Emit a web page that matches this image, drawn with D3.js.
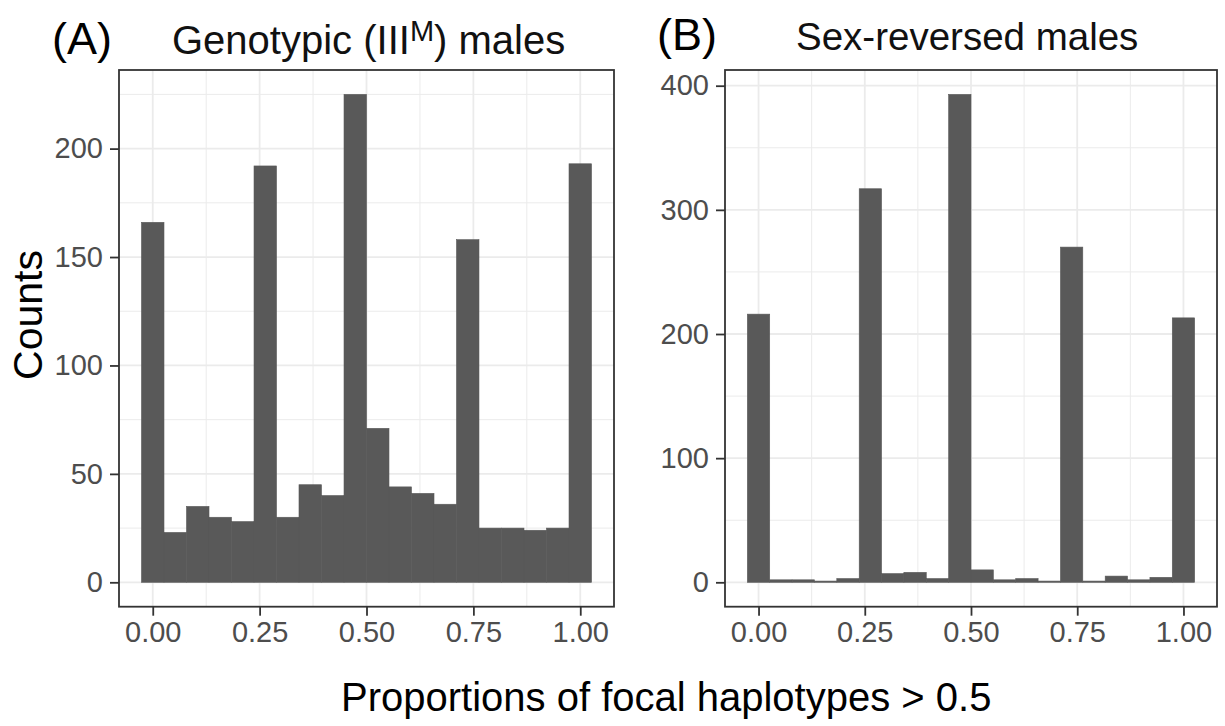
<!DOCTYPE html>
<html><head><meta charset="utf-8">
<script src="https://cdn.jsdelivr.net/npm/d3@7"></script>
<style>
body{margin:0;background:#fff}
svg{display:block}
text{font-family:"Liberation Sans",Arial,Helvetica,sans-serif}
</style>
</head><body>
<svg id="chart" width="1225" height="726"></svg>
<script>
// ---- data ----
const binMids = [0, 0.0526, 0.1053, 0.1579, 0.2105, 0.2632, 0.3158, 0.3684, 0.4211, 0.4737,
                 0.5263, 0.5789, 0.6316, 0.6842, 0.7368, 0.7895, 0.8421, 0.8947, 0.9474, 1];
const binWidth = 0.0526;
const countsA = [166, 23, 35, 30, 28, 192, 30, 45, 40, 225, 71, 44, 41, 36, 158, 25, 25, 24, 25, 193];
const countsB = [216, 2, 2, 1, 3, 317, 7, 8, 3, 393, 10, 2, 3, 1, 270, 1, 5, 2, 4, 213];
const xTicks = [0, 0.25, 0.5, 0.75, 1];
const xTickLabels = ["0.00", "0.25", "0.50", "0.75", "1.00"];
const xMinor = [0.125, 0.375, 0.625, 0.875];
const yTicksA = [0, 50, 100, 150, 200];
const yMinorA = [25, 75, 125, 175, 225];
const yTicksB = [0, 100, 200, 300, 400];
const yMinorB = [50, 150, 250, 350];

(function () {
const svg = d3.select("#chart");
const font = '"Liberation Sans",Arial,Helvetica,sans-serif';
const pTop = 70, pBottom = 606.7;

const panels = [
  {x0: 119, x1: 614, counts: countsA, yt: yTicksA, ym: yMinorA},
  {x0: 725, x1: 1217, counts: countsB, yt: yTicksB, ym: yMinorB}
];

const xlo = binMids[0] - binWidth / 2, xhi = binMids[binMids.length - 1] + binWidth / 2;
const xpad = (xhi - xlo) * 0.05;

panels.forEach(p => {
  const ymax = d3.max(p.counts);
  const x = d3.scaleLinear().domain([xlo - xpad, xhi + xpad]).range([p.x0, p.x1]);
  const y = d3.scaleLinear().domain([-0.05 * ymax, ymax * 1.05]).range([pBottom, pTop]);
  const g = svg.append("g");

  g.selectAll(".mx").data(xMinor).join("line")
    .attr("x1", d => x(d)).attr("x2", d => x(d)).attr("y1", pTop).attr("y2", pBottom)
    .attr("stroke", "#EBEBEB").attr("stroke-width", 1);
  g.selectAll(".my").data(p.ym).join("line")
    .attr("y1", d => y(d)).attr("y2", d => y(d)).attr("x1", p.x0).attr("x2", p.x1)
    .attr("stroke", "#EBEBEB").attr("stroke-width", 1);
  g.selectAll(".Mx").data(xTicks).join("line")
    .attr("x1", d => x(d)).attr("x2", d => x(d)).attr("y1", pTop).attr("y2", pBottom)
    .attr("stroke", "#EBEBEB").attr("stroke-width", 1.8);
  g.selectAll(".My").data(p.yt).join("line")
    .attr("y1", d => y(d)).attr("y2", d => y(d)).attr("x1", p.x0).attr("x2", p.x1)
    .attr("stroke", "#EBEBEB").attr("stroke-width", 1.8);

  g.selectAll(".bar").data(p.counts).join("rect")
    .attr("x", (d, i) => x(binMids[i] - binWidth / 2))
    .attr("width", (d, i) => x(binMids[i] + binWidth / 2) - x(binMids[i] - binWidth / 2))
    .attr("y", d => y(d))
    .attr("height", d => y(0) - y(d))
    .attr("fill", "#595959")
    .attr("stroke", "#595959").attr("stroke-width", 0.6);

  g.append("rect").attr("x", p.x0).attr("y", pTop).attr("width", p.x1 - p.x0).attr("height", pBottom - pTop)
    .attr("fill", "none").attr("stroke", "#333333").attr("stroke-width", 1.8);

  const xa = g.append("g").attr("transform", `translate(0,${pBottom})`)
    .call(d3.axisBottom(x).tickValues(xTicks).tickFormat((d, i) => xTickLabels[i]).tickSize(9).tickPadding(6));
  xa.select(".domain").remove();
  xa.selectAll("line").attr("stroke", "#333333").attr("stroke-width", 1.8);
  xa.selectAll("text").attr("fill", "#4D4D4D").style("font-size", "29px").style("font-family", font);

  const ya = g.append("g").attr("transform", `translate(${p.x0},0)`)
    .call(d3.axisLeft(y).tickValues(p.yt).tickSize(9).tickPadding(7));
  ya.select(".domain").remove();
  ya.selectAll("line").attr("stroke", "#333333").attr("stroke-width", 1.8);
  ya.selectAll("text").attr("fill", "#4D4D4D").style("font-size", "29px").style("font-family", font);
});

svg.append("text").attr("x", 52).attr("y", 54).attr("font-size", 45).attr("fill", "#000").text("(A)");
const tA = svg.append("text").attr("x", 172).attr("y", 54).attr("font-size", 40).attr("fill", "#111");
tA.append("tspan").text("Genotypic (III");
tA.append("tspan").attr("dy", -13).attr("font-size", 29).text("M");
tA.append("tspan").attr("dy", 13).text(") males");

svg.append("text").attr("x", 657).attr("y", 50).attr("font-size", 45).attr("fill", "#000").text("(B)");
svg.append("text").attr("x", 796).attr("y", 50).attr("font-size", 38.5).attr("fill", "#111").text("Sex-reversed males");

svg.append("text").attr("transform", "translate(42,315) rotate(-90)").attr("text-anchor", "middle")
  .attr("font-size", 41).attr("fill", "#000").text("Counts");
svg.append("text").attr("x", 341).attr("y", 711).attr("font-size", 40).attr("fill", "#000")
  .text("Proportions of focal haplotypes > 0.5");
})();
</script>
</body></html>
